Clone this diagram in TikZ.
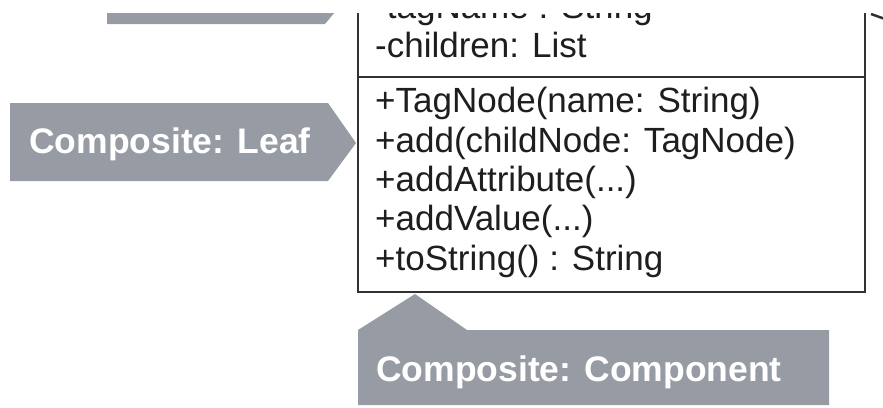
\documentclass[tikz,border=0pt]{standalone}
\usepackage{fontspec}
\setmainfont{Liberation Sans}
\definecolor{bannergray}{RGB}{151,156,164}
\definecolor{linegray}{RGB}{50,50,50}
\definecolor{txtgray}{RGB}{30,30,30}
\tikzset{
  banner/.style={fill=bannergray, draw=none},
  bannertext/.style={text=white, font=\fontsize{35.5}{40}\selectfont\bfseries, anchor=base west, inner sep=0pt},
  boxline/.style={draw=linegray, line width=1.8pt},
  member/.style={text=txtgray, font=\fontsize{35}{40}\selectfont, anchor=base west, inner sep=0pt}
}
\begin{document}
\begin{tikzpicture}[x=1pt,y=-1pt]
\useasboundingbox (0,0) rectangle (883,407);
\begin{scope}
\clip (0,13) rectangle (883,407);
% top banner (mostly cut off)
\path[banner] (107,0) -- (345,0) -- (325,24) -- (107,24) -- cycle;
% class box
\coordinate (tl) at (358,-60);
\coordinate (br) at (865,292);
\draw[boxline, fill=white] (tl) rectangle (br);
\coordinate (sepL) at (358,77);
\coordinate (sepR) at (865,77);
\draw[boxline] (sepL) -- (sepR);
\node[member] (a1) at (375,18) {-tagName : String};
\node[member] (a2) at (375,57) {-children: List};
\node[member] (m1) at (375,112) {+TagNode(name: String)};
\node[member] (m2) at (375,152) {+add(childNode: TagNode)};
\node[member] (m3) at (375,191) {+addAttribute(...)};
\node[member] (m4) at (375,230) {+addValue(...)};
\node[member] (m5) at (375,270) {+toString() : String};
% fragment at top right
\coordinate (fragA) at (871,14);
\coordinate (fragB) at (885,19);
\draw[draw=linegray, line width=2.5pt] (fragA) -- (fragB);
% leaf banner
\path[banner] (10,103) -- (328,103) -- (356,143) -- (328,181) -- (10,181) -- cycle;
\node[bannertext] (leaf) at (29,153) {Composite: Leaf};
% component banner
\path[banner] (358,330) -- (415,294) -- (467,330) -- (829,330) -- (829,405) -- (358,405) -- cycle;
\node[bannertext] (comp) at (376,381) {Composite: Component};
\end{scope}
\end{tikzpicture}
\end{document}
